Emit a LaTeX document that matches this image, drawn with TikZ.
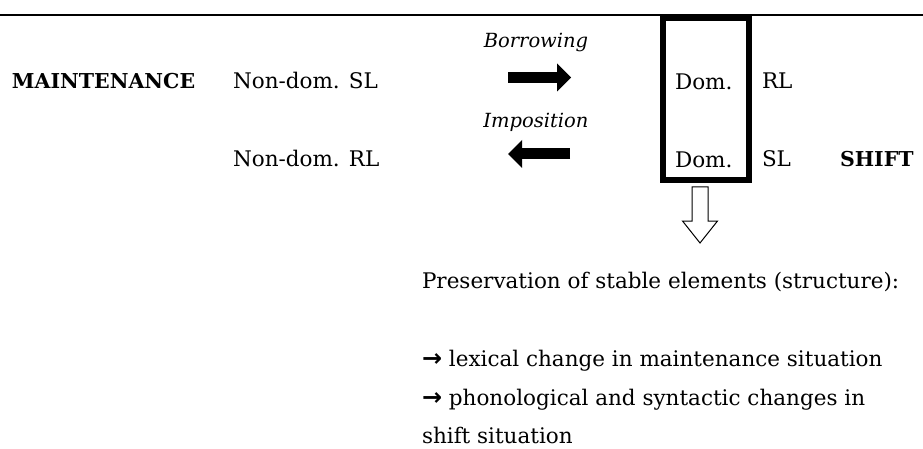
\documentclass[tikz,border=0pt]{standalone}
\usepackage{fontspec}
\setmainfont{DejaVu Serif}
\newfontfamily\symfont{DejaVu Sans}
\usetikzlibrary{positioning,arrows.meta}

\newcommand{\pointer}{{\symfont\bfseries\fontsize{24}{28}\selectfont →}}

\begin{document}
\begin{tikzpicture}[
  x=1pt, y=1pt,
  every node/.style={inner sep=0pt, outer sep=0pt},
  txt/.style={anchor=base west, font=\fontsize{21.5}{28}\selectfont},
  lbl/.style={anchor=base west, font=\fontsize{20.5}{26}\selectfont\bfseries},
  how/.style={anchor=base, font=\fontsize{19.5}{26}\selectfont\itshape},
  dombox/.style={draw, line width=6pt, minimum width=86pt, minimum height=162pt},
  blockarr/.style={line width=11pt,
    -{Triangle[length=14pt, width=28pt, line width=0pt]}},
  hollowarr/.style={draw, line width=1pt, fill=white, line join=miter},
  rule/.style={line width=2pt},
]
\useasboundingbox (0,0) rectangle (923,-449);

% top rule and box of the dominant language
\draw[rule] (0,-15) -- (923,-15);
\node[dombox] (dom) at (706,-99) {};

% first row
\node[lbl] (maint) at (12,-89) {MAINTENANCE};
\node[txt] (ndsl) at (233,-89) {Non-dom. SL};
\node[txt] (domrl) at (675,-90) {Dom.};
\node[txt] (rl) at (762,-89) {RL};

% second row
\node[txt] (ndrl) at (233,-167) {Non-dom. RL};
\node[txt] (domsl) at (675,-168) {Dom.};
\node[txt] (sl) at (762,-167) {SL};
\node[lbl] (shift) at (840,-167) {SHIFT};

% transfer directions
\node[how] (borrow) at (536,-48) {Borrowing};
\node[how] (impose) at (536,-128) {Imposition};
\coordinate (bw) at (508,-77.5);
\coordinate (be) at (571,-77.5);
\coordinate (iw) at (508,-154);
\coordinate (ie) at (570,-154);
\draw[blockarr] (bw) -- (be);
\draw[blockarr] (ie) -- (iw);

% outcome
\draw[hollowarr] (692,-187) -- (708,-187) -- (708,-221) -- (717.5,-221)
  -- (700,-243) -- (682.5,-221) -- (692,-221) -- cycle;
\node[txt] (presv) at (422,-288) {Preservation of stable elements (structure):};
\node[txt] (lex) at (422,-366) {\pointer\ lexical change in maintenance situation};
\node[txt] (phon) at (422,-405) {\pointer\ phonological and syntactic changes in};
\node[txt] (shsit) at (422,-443) {shift situation};
\end{tikzpicture}
\end{document}
